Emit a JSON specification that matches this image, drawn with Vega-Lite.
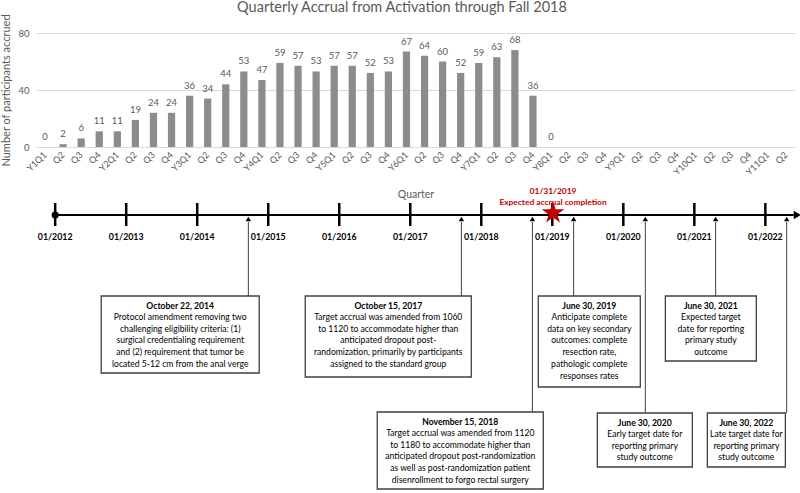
{
  "$schema": "https://vega.github.io/schema/vega-lite/v6.json",
  "padding": {"left": 0, "top": 0, "right": 0, "bottom": 0},
  "bounds": "flush",
  "spacing": 25,
  "config": {"view": {"stroke": null}, "font": "Lato"},
  "title": {"text": "Quarterly Accrual from Activation through Fall 2018", "fontSize": 14.5, "fontWeight": "normal", "color": "#595959", "anchor": "middle", "offset": -2},
  "datasets": {
    "events": [
      {"t": 2014.72, "title": "October 22, 2014", "body": ["Protocol amendment removing two", "challenging eligibility criteria: (1)", "surgical credentialing requirement", "and (2) requirement that tumor be", "located 5-12 cm from the anal verge"], "bx0": 2012.648, "bx1": 2014.873, "top": 124, "bottom": 201},
      {"t": 2017.72, "title": "October 15, 2017", "body": ["Target accrual was amended from 1060", "to 1120 to accommodate higher than", "anticipated dropout post-", "randomization, primarily by participants", "assigned to the standard group"], "bx0": 2015.521, "bx1": 2017.859, "top": 124, "bottom": 205},
      {"t": 2018.72, "title": "November 15, 2018", "body": ["Target accrual was amended from 1120", "to 1180 to accommodate higher than", "anticipated dropout post-randomization", "as well as post-randomization patient", "disenrollment to forgo rectal surgery"], "bx0": 2016.535, "bx1": 2018.873, "top": 240, "bottom": 317},
      {"t": 2019.30, "title": "June 30, 2019", "body": ["Anticipate complete", "data on key secondary", "outcomes: complete", "resection rate,", "pathologic complete", "responses rates"], "bx0": 2018.803, "bx1": 2020.239, "top": 124, "bottom": 215},
      {"t": 2020.31, "title": "June 30, 2020", "body": ["Early target date for", "reporting primary", "study outcome"], "bx0": 2019.634, "bx1": 2020.972, "top": 241, "bottom": 295},
      {"t": 2021.30, "title": "June 30, 2021", "body": ["Expected target", "date for reporting", "primary study", "outcome"], "bx0": 2020.592, "bx1": 2021.873, "top": 124, "bottom": 189},
      {"t": 2022.30, "title": "June 30, 2022", "body": ["Late target date for", "reporting primary", "study outcome"], "bx0": 2021.183, "bx1": 2022.282, "top": 241, "bottom": 295}
    ],
    "years": [
      {"yr": 2012, "label": "01/2012"}, {"yr": 2013, "label": "01/2013"}, {"yr": 2014, "label": "01/2014"},
      {"yr": 2015, "label": "01/2015"}, {"yr": 2016, "label": "01/2016"}, {"yr": 2017, "label": "01/2017"},
      {"yr": 2018, "label": "01/2018"}, {"yr": 2019, "label": "01/2019"}, {"yr": 2020, "label": "01/2020"},
      {"yr": 2021, "label": "01/2021"}, {"yr": 2022, "label": "01/2022"}
    ],
    "span": [{"from": 2012, "to": 2022.4, "end": 2022.45}],
    "milestone": [
      {"t": 2019.01, "lines": ["01/31/2019", "Expected accrual completion"]}
    ]
  },
  "vconcat": [
    {
      "width": 759,
      "height": 114,
      "data": {"values": [
        {"quarter": "Y1Q1", "n": 0}, {"quarter": "Y1Q2", "n": 2}, {"quarter": "Y1Q3", "n": 6}, {"quarter": "Y1Q4", "n": 11},
        {"quarter": "Y2Q1", "n": 11}, {"quarter": "Y2Q2", "n": 19}, {"quarter": "Y2Q3", "n": 24}, {"quarter": "Y2Q4", "n": 24},
        {"quarter": "Y3Q1", "n": 36}, {"quarter": "Y3Q2", "n": 34}, {"quarter": "Y3Q3", "n": 44}, {"quarter": "Y3Q4", "n": 53},
        {"quarter": "Y4Q1", "n": 47}, {"quarter": "Y4Q2", "n": 59}, {"quarter": "Y4Q3", "n": 57}, {"quarter": "Y4Q4", "n": 53},
        {"quarter": "Y5Q1", "n": 57}, {"quarter": "Y5Q2", "n": 57}, {"quarter": "Y5Q3", "n": 52}, {"quarter": "Y5Q4", "n": 53},
        {"quarter": "Y6Q1", "n": 67}, {"quarter": "Y6Q2", "n": 64}, {"quarter": "Y6Q3", "n": 60}, {"quarter": "Y6Q4", "n": 52},
        {"quarter": "Y7Q1", "n": 59}, {"quarter": "Y7Q2", "n": 63}, {"quarter": "Y7Q3", "n": 68}, {"quarter": "Y7Q4", "n": 36},
        {"quarter": "Y8Q1", "n": 0}, {"quarter": "Y8Q2", "n": null}, {"quarter": "Y8Q3", "n": null}, {"quarter": "Y8Q4", "n": null},
        {"quarter": "Y9Q1", "n": null}, {"quarter": "Y9Q2", "n": null}, {"quarter": "Y9Q3", "n": null}, {"quarter": "Y9Q4", "n": null},
        {"quarter": "Y10Q1", "n": null}, {"quarter": "Y10Q2", "n": null}, {"quarter": "Y10Q3", "n": null}, {"quarter": "Y10Q4", "n": null},
        {"quarter": "Y11Q1", "n": null}, {"quarter": "Y11Q2", "n": null}
      ]},
      "layer": [
        {
          "mark": {"type": "bar", "color": "#8c8c8c"},
          "encoding": {
            "x": {"field": "quarter", "type": "ordinal", "sort": null,
                  "scale": {"paddingInner": 0.6, "paddingOuter": 0.3,
                            "domain": ["Y1Q1", "Y1Q2", "Y1Q3", "Y1Q4", "Y2Q1", "Y2Q2", "Y2Q3", "Y2Q4", "Y3Q1", "Y3Q2", "Y3Q3", "Y3Q4",
                                       "Y4Q1", "Y4Q2", "Y4Q3", "Y4Q4", "Y5Q1", "Y5Q2", "Y5Q3", "Y5Q4", "Y6Q1", "Y6Q2", "Y6Q3", "Y6Q4",
                                       "Y7Q1", "Y7Q2", "Y7Q3", "Y7Q4", "Y8Q1", "Y8Q2", "Y8Q3", "Y8Q4", "Y9Q1", "Y9Q2", "Y9Q3", "Y9Q4",
                                       "Y10Q1", "Y10Q2", "Y10Q3", "Y10Q4", "Y11Q1", "Y11Q2"]},
                  "axis": {"title": "Quarter", "titleY": 42, "titleColor": "#595959", "titleFontWeight": "normal", "titleFontSize": 10.5,
                           "labelAngle": -45, "labelAlign": "right", "labelBaseline": "middle", "labelColor": "#595959", "labelFontSize": 9, "labelPadding": 6,
                           "labelExpr": "slice(datum.value, -2) == 'Q1' ? datum.value : slice(datum.value, -2)",
                           "ticks": false, "domain": false}},
            "y": {"field": "n", "type": "quantitative", "scale": {"domain": [0, 80], "nice": false},
                  "axis": {"values": [0, 10, 20, 30, 40, 50, 60, 70, 80], "labelOverlap": false, "title": "Number of participants accrued", "titleColor": "#595959", "titleFontWeight": "normal", "titleFontSize": 11, "titlePadding": 6,
                           "labelColor": "#595959", "labelFontSize": 9.5, "labelPadding": 7, "domain": false, "ticks": false, "gridColor": "#d9d9d9"}}
          }
        },
        {
          "mark": {"type": "text", "dy": -10, "color": "#595959", "fontSize": 9.5},
          "encoding": {
            "x": {"field": "quarter", "type": "ordinal", "sort": null},
            "y": {"field": "n", "type": "quantitative"},
            "text": {"field": "n", "type": "quantitative"}
          }
        }
      ]
    },
    {
      "width": 767,
      "height": 321,
      "layer": [
        {
          "data": {"name": "span"},
          "transform": [{"calculate": "43", "as": "lvl"}],
          "mark": {"type": "rule", "strokeWidth": 2, "color": "black"},
          "encoding": {
            "x": {"field": "from", "type": "quantitative", "scale": {"domain": [2011.73, 2022.53], "nice": false, "zero": false}, "axis": null},
            "x2": {"field": "to"},
            "y": {"field": "lvl", "type": "quantitative", "scale": {"domain": [0, 321], "reverse": true, "nice": false, "zero": false}, "axis": null}
          }
        },
        {
          "data": {"name": "years"},
          "transform": [{"calculate": "31", "as": "a"}, {"calculate": "54", "as": "b"}, {"calculate": "65", "as": "c"}],
          "layer": [
            {
              "mark": {"type": "rule", "strokeWidth": 2.5, "color": "black"},
              "encoding": {
                "x": {"field": "yr", "type": "quantitative", "axis": null},
                "y": {"field": "a", "type": "quantitative", "axis": null},
                "y2": {"field": "b"}
              }
            },
            {
              "mark": {"type": "text", "fontWeight": "bold", "fontSize": 8.8, "color": "black"},
              "encoding": {
                "x": {"field": "yr", "type": "quantitative", "axis": null},
                "y": {"field": "c", "type": "quantitative", "axis": null},
                "text": {"field": "label", "type": "nominal"}
              }
            }
          ]
        },
        {
          "data": {"name": "span"},
          "transform": [{"calculate": "43", "as": "lvl"}],
          "layer": [
            {
              "mark": {"type": "point", "shape": "circle", "filled": true, "size": 50, "color": "black", "opacity": 1},
              "encoding": {
                "x": {"field": "from", "type": "quantitative", "axis": null},
                "y": {"field": "lvl", "type": "quantitative", "axis": null}
              }
            },
            {
              "mark": {"type": "point", "shape": "triangle-right", "filled": true, "size": 70, "color": "black", "opacity": 1},
              "encoding": {
                "x": {"field": "end", "type": "quantitative", "axis": null},
                "y": {"field": "lvl", "type": "quantitative", "axis": null}
              }
            }
          ]
        },
        {
          "data": {"name": "events"},
          "transform": [{"calculate": "50", "as": "from"}, {"calculate": "47", "as": "arrow"}, {"calculate": "(datum.bx0 + datum.bx1) / 2", "as": "cx"}],
          "layer": [
            {
              "mark": {"type": "rule", "strokeWidth": 1, "color": "#404040"},
              "encoding": {
                "x": {"field": "t", "type": "quantitative", "axis": null},
                "y": {"field": "from", "type": "quantitative", "axis": null},
                "y2": {"field": "top"}
              }
            },
            {
              "mark": {"type": "point", "shape": "triangle-up", "filled": true, "size": 30, "color": "black", "opacity": 1},
              "encoding": {
                "x": {"field": "t", "type": "quantitative", "axis": null},
                "y": {"field": "arrow", "type": "quantitative", "axis": null}
              }
            },
            {
              "mark": {"type": "rect", "fill": "white", "stroke": "#404040", "strokeWidth": 1.3},
              "encoding": {
                "x": {"field": "bx0", "type": "quantitative", "axis": null},
                "x2": {"field": "bx1"},
                "y": {"field": "top", "type": "quantitative", "axis": null},
                "y2": {"field": "bottom"}
              }
            },
            {
              "mark": {"type": "text", "fontWeight": "bold", "fontSize": 8.6, "color": "black", "baseline": "middle", "dy": 10},
              "encoding": {
                "x": {"field": "cx", "type": "quantitative", "axis": null},
                "y": {"field": "top", "type": "quantitative", "axis": null},
                "text": {"field": "title", "type": "nominal"}
              }
            },
            {
              "mark": {"type": "text", "fontSize": 8.6, "color": "black", "baseline": "top", "dy": 17, "lineHeight": 11.7},
              "encoding": {
                "x": {"field": "cx", "type": "quantitative", "axis": null},
                "y": {"field": "top", "type": "quantitative", "axis": null},
                "text": {"field": "body", "type": "nominal"}
              }
            }
          ]
        },
        {
          "data": {"name": "milestone"},
          "transform": [{"calculate": "41", "as": "s"}, {"calculate": "18.5", "as": "lab"}],
          "layer": [
            {
              "mark": {"type": "point", "shape": "M0,-1L0.2245,-0.309L0.951,-0.309L0.363,0.118L0.588,0.809L0,0.382L-0.588,0.809L-0.363,0.118L-0.951,-0.309L-0.2245,-0.309Z", "filled": true, "size": 560, "color": "#c00000", "opacity": 1},
              "encoding": {
                "x": {"field": "t", "type": "quantitative", "axis": null},
                "y": {"field": "s", "type": "quantitative", "axis": null}
              }
            },
            {
              "mark": {"type": "text", "fontWeight": "bold", "fontSize": 8.4, "color": "#c00000", "baseline": "middle", "lineHeight": 11.5},
              "encoding": {
                "x": {"field": "t", "type": "quantitative", "axis": null},
                "y": {"field": "lab", "type": "quantitative", "axis": null},
                "text": {"field": "lines", "type": "nominal"}
              }
            }
          ]
        }
      ]
    }
  ]
}
